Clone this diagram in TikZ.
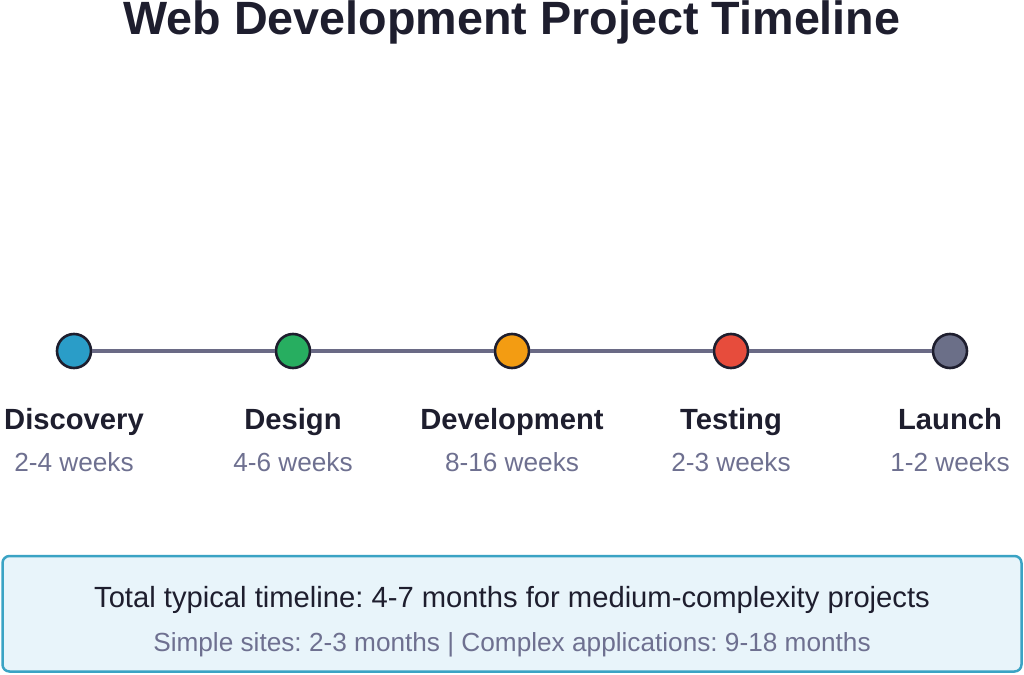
\documentclass[tikz,border=0pt]{standalone}
\usepackage{fontspec}
\setmainfont{Liberation Sans}
\frenchspacing
\definecolor{ink}{HTML}{1E1E2E}
\definecolor{muted}{HTML}{6E7090}
\definecolor{lineclr}{HTML}{6A6A85}
\definecolor{cblue}{HTML}{2A9DC8}
\definecolor{cgreen}{HTML}{27AE60}
\definecolor{corange}{HTML}{F39C12}
\definecolor{cred}{HTML}{E74C3C}
\definecolor{cgray}{HTML}{6B6F88}
\definecolor{boxfill}{HTML}{E8F4FA}
\definecolor{boxline}{HTML}{3AA3C4}
\tikzset{
  milestone/.style={circle, draw=ink, line width=2.6pt, minimum size=34pt, inner sep=0pt},
  phase/.style={anchor=base, text=ink, font=\fontsize{29.2}{31}\selectfont\bfseries, inner sep=0pt},
  dur/.style={anchor=base, text=muted, font=\fontsize{26.2}{28}\selectfont, inner sep=0pt},
  tline/.style={draw=lineclr, line width=4pt},
}
\begin{document}
\begin{tikzpicture}[x=1pt,y=-1pt]
\useasboundingbox (0,0) rectangle (1024,674);
\node[anchor=base, text=ink, font=\fontsize{46.7}{48}\selectfont\bfseries, inner sep=0pt] (title) at (512,35) {Web Development Project Timeline};
\node[milestone, fill=cblue] (m1) at (74,351) {};
\node[milestone, fill=cgreen] (m2) at (293,351) {};
\node[milestone, fill=corange] (m3) at (512,351) {};
\node[milestone, fill=cred] (m4) at (731,351) {};
\node[milestone, fill=cgray] (m5) at (950,351) {};
\draw[tline] (m1) -- (m2);
\draw[tline] (m2) -- (m3);
\draw[tline] (m3) -- (m4);
\draw[tline] (m4) -- (m5);
\node[phase] (p1) at (74,429) {Discovery};
\node[phase] (p2) at (293,429) {Design};
\node[phase] (p3) at (512,429) {Development};
\node[phase] (p4) at (731,429) {Testing};
\node[phase] (p5) at (950,429) {Launch};
\node[dur] (d1) at (74,471) {2-4 weeks};
\node[dur] (d2) at (293,471) {4-6 weeks};
\node[dur] (d3) at (512,471) {8-16 weeks};
\node[dur] (d4) at (731,471) {2-3 weeks};
\node[dur] (d5) at (950,471) {1-2 weeks};
\draw[draw=boxline, fill=boxfill, line width=2.5pt, rounded corners=7pt] (2.5,556) rectangle (1021.5,671.5);
\node[anchor=base, text=ink, font=\fontsize{29.2}{31}\selectfont, inner sep=0pt] (total) at (512,607) {Total typical timeline: 4-7 months for medium-complexity projects};
\node[anchor=base, text=muted, font=\fontsize{26.2}{28}\selectfont, inner sep=0pt] (range) at (512,651) {Simple sites: 2-3 months | Complex applications: 9-18 months};
\end{tikzpicture}
\end{document}
